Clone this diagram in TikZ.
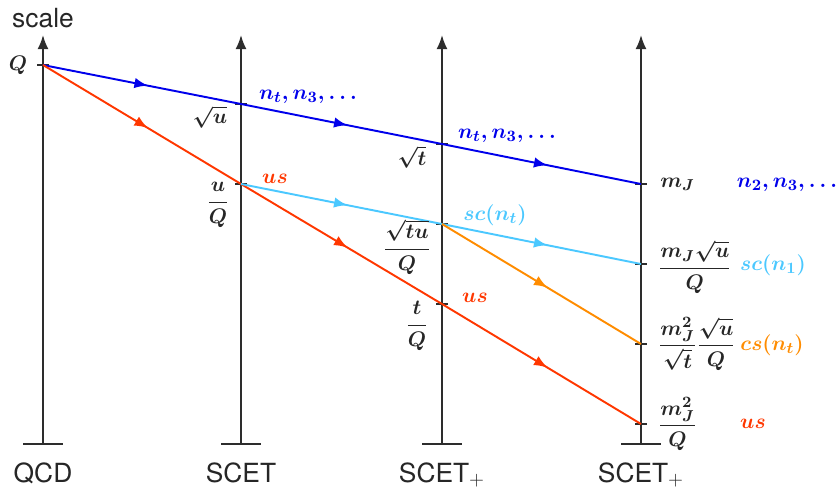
\documentclass[tikz,border=0pt]{standalone}
\usepackage{amsmath}
\usepackage{fontspec}
\setmainfont{TeX Gyre Heros}
\definecolor{axisgray}{RGB}{45, 45, 45}
\definecolor{hcblue}{RGB}{0, 0, 235}
\definecolor{usred}{RGB}{255, 55, 0}
\definecolor{scblue}{RGB}{75, 200, 255}
\definecolor{csorange}{RGB}{255, 140, 0}
\setlength{\nulldelimiterspace}{0pt}
\usepackage{tikz}
\usetikzlibrary{arrows.meta, decorations.markings}
\tikzset{
  scaleaxis/.style = {
    draw=axisgray, 
    line width=1.1pt, 
    -{Latex[length=2.8mm, width=2.2mm]}
  },
  axisbase/.style = {
    draw=axisgray, 
    line width=1.1pt
  },
  tickmark/.style = {
    draw=axisgray, 
    line width=1.1pt
  },
  midarrow/.style = {
    postaction={decorate}, 
    decoration={markings, mark=at position 0.53 with {\arrow{Latex[length=2.7mm, width=2.1mm]}}}
  },
  hcline/.style = {draw=hcblue, line width=1.1pt, midarrow},
  usline/.style = {draw=usred, line width=1.1pt, midarrow},
  scline/.style = {draw=scblue, line width=1.1pt, midarrow},
  csline/.style = {draw=csorange, line width=1.1pt, midarrow},
  theorylabel/.style = {
    anchor=base, 
    inner sep=0pt, 
    text=black!85, 
    font=\fontsize{15}{18}\selectfont
  },
  ticklabel/.style = {
    inner sep=0pt, 
    text=black!85, 
    font=\fontsize{13}{15}\selectfont\boldmath
  },
  modelabel/.style = {
    inner sep=0pt, 
    font=\fontsize{13}{15}\selectfont\boldmath
  }
}

\begin{document}
\begin{tikzpicture}[x=0.02cm, y=-0.02cm]
  \useasboundingbox (0,0) rectangle (837,488);

  % Axes: one scale axis per theory
  \foreach \ax/\xpos in {qcd/43, scet/241, scetpa/442, scetpb/641} {
    \coordinate (\ax bot) at (\xpos, 444);
    \coordinate (\ax top) at (\xpos, 35);
    \draw[scaleaxis] (\ax bot) -- (\ax top);
    \draw[axisbase] ([xshift=-0.4cm]\ax bot) -- ([xshift=0.4cm]\ax bot);
  }

  \node[theorylabel] (scalelab) at (43, 27) {scale};
  \node[theorylabel] (qcdlab) at (43, 482) {QCD};
  \node[theorylabel] (scetlab) at (241, 482) {SCET};
  \node[theorylabel] (scetpalab) at (442, 482) {SCET$_+$};
  \node[theorylabel] (scetpblab) at (641, 482) {SCET$_+$};

  % Ticks on the axes
  \foreach \tk/\xpos/\ypos in {q/43/65, su/241/104, uq/241/184, st/442/144, stu/442/224,
                               tq/442/304, mj/641/184, mju/641/264, mjt/641/344, mjq/641/424} {
    \coordinate (\tk) at (\xpos, \ypos);
    \draw[tickmark] ([xshift=-0.12cm]\tk) -- ([xshift=0.12cm]\tk);
  }

  % Running between the scales
  \draw[hcline] (q) -- (su);
  \draw[hcline] (su) -- (st);
  \draw[hcline] (st) -- (mj);

  \draw[usline] (q) -- (uq);
  \draw[usline] (uq) -- (tq);
  \draw[usline] (tq) -- (mjq);

  \draw[scline] (uq) -- (stu);
  \draw[scline] (stu) -- (mju);

  \draw[csline] (stu) -- (mjt);

  % Scale labels
  \node[ticklabel] (qlab) at (18, 65) {$Q$};
  \node[ticklabel] (sulab) at (210, 117) {$\sqrt{u}$};
  \node[ticklabel] (uqlab) at (218, 205) {$\dfrac{u}{Q}$};
  \node[ticklabel] (stlab) at (412, 157) {$\sqrt{t}$};
  \node[ticklabel] (stulab) at (407, 247) {$\dfrac{\sqrt{tu}}{Q}$};
  \node[ticklabel] (tqlab) at (417, 326) {$\dfrac{t}{Q}$};
  \node[ticklabel, anchor=west] (mjlab) at (660, 184) {$m_J$};
  \node[ticklabel, anchor=west] (mjulab) at (660, 267) {$\dfrac{m_J\sqrt{u}}{Q}$};
  \node[ticklabel, anchor=west] (mjtlab) at (660, 344) {$\dfrac{m_J^2}{\sqrt{t}}\,\dfrac{\sqrt{u}}{Q}$};
  \node[ticklabel, anchor=west] (mjqlab) at (660, 424) {$\dfrac{m_J^2}{Q}$};

  % Mode labels
  \node[modelabel, text=hcblue] (hca) at (308, 97) {$n_t, n_3, \ldots$};
  \node[modelabel, text=hcblue] (hcb) at (507, 136) {$n_t, n_3, \ldots$};
  \node[modelabel, text=hcblue] (hcc) at (787, 185) {$n_2, n_3, \ldots$};
  \node[modelabel, text=usred] (usa) at (275, 179) {$us$};
  \node[modelabel, text=usred] (usb) at (475, 298) {$us$};
  \node[modelabel, text=usred] (usc) at (753, 424) {$us$};
  \node[modelabel, text=scblue] (sca) at (495, 215) {$sc(n_t)$};
  \node[modelabel, text=scblue] (scb) at (773, 265) {$sc(n_1)$};
  \node[modelabel, text=csorange] (csa) at (772, 345) {$cs(n_t)$};
\end{tikzpicture}
\end{document}
